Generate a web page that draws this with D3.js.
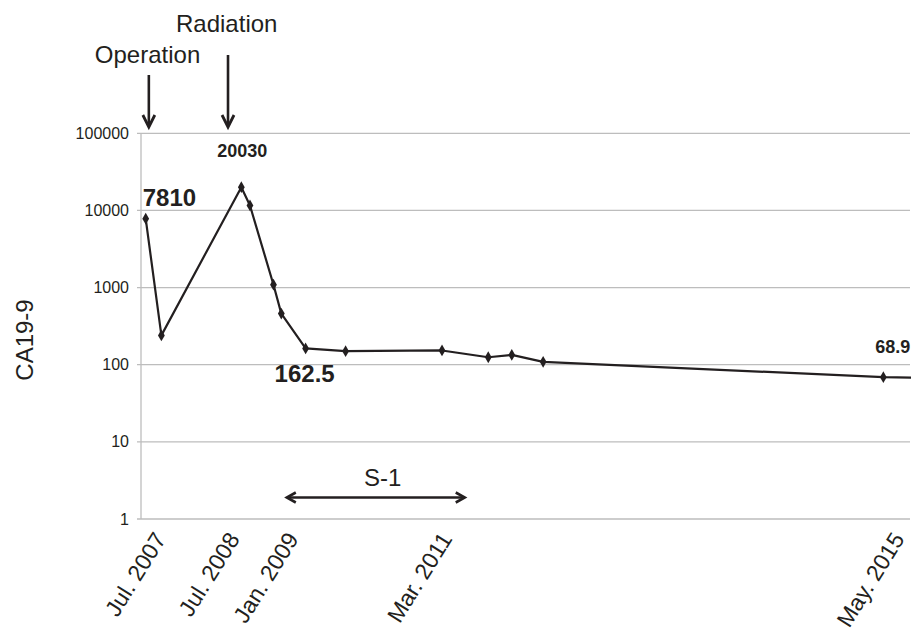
<!DOCTYPE html>
<html>
<head>
<meta charset="utf-8">
<script src="https://cdn.jsdelivr.net/npm/d3@7"></script>
<style>
    body { margin: 0; background: #fff; }
    text { font-family: "Liberation Sans", Arial, sans-serif; fill: #231f20; }
</style>
</head>
<body>
<div id="chart"></div>
<script>
(function () {
    "use strict";

    //Months after the operation (Jul. 2007)
    var obsMonth = [0, 2.0, 12.2, 13.3, 16.3, 17.3, 20.4, 25.5, 37.8, 43.7, 46.7, 50.7, 94.1, 99.0];
    //CA19-9 values
    var obsValue = [7810, 240, 20030, 11600, 1090, 460, 162.5, 150, 153, 125, 134, 109, 68.9, 67.5];

    //Value labels shown on the chart (index into the series)
    var valueLabels = [
        { i: 0, text: "7810" },
        { i: 2, text: "20030" },
        { i: 6, text: "162.5" },
        { i: 12, text: "68.9" }
    ];

    var yTicks = [1, 10, 100, 1000, 10000, 100000];
    var xTickMonths = [2.7, 12.1, 19.6, 39.2, 96.9];
    var xTickLabels = ["Jul. 2007", "Jul. 2008", "Jan. 2009", "Mar. 2011", "May. 2015"];

    //Treatment events
    var events = [
        { month: 0.4, text: "Operation" },
        { month: 10.5, text: "Radiation" }
    ];
    var s1Period = [18.0, 40.7];
    var s1Label = "S-1";

    var width = 911, height = 635;
    var left = 141, right = 910, top = 133.3, bottom = 519;

    var svg = d3.select("#chart").append("svg")
        .attr("width", width)
        .attr("height", height);

    var x = d3.scaleLinear().domain([-0.6, 97.5]).range([left, right]);
    var y = d3.scaleLog().domain([1, 100000]).range([bottom, top]);

    //Gridlines and left axis
    svg.append("g").selectAll("line")
        .data(yTicks)
        .enter().append("line")
        .attr("x1", left - 4)
        .attr("x2", right)
        .attr("y1", function (d) { return y(d); })
        .attr("y2", function (d) { return y(d); })
        .attr("stroke", "#bdbdbd")
        .attr("stroke-width", 1.3);

    svg.append("line")
        .attr("x1", left).attr("x2", left)
        .attr("y1", top).attr("y2", bottom)
        .attr("stroke", "#bdbdbd")
        .attr("stroke-width", 1.3);

    svg.append("g").selectAll("text")
        .data(yTicks)
        .enter().append("text")
        .attr("x", left - 12)
        .attr("y", function (d) { return y(d) + 5.5; })
        .attr("text-anchor", "end")
        .style("font-size", "16px")
        .text(function (d) { return d; });

    //Y axis title
    svg.append("text")
        .attr("transform", "translate(33," + 340 + ") rotate(-90)")
        .attr("text-anchor", "middle")
        .style("font-size", "24px")
        .text("CA19-9");

    //X labels, rotated
    svg.append("g").selectAll("text")
        .data(xTickMonths)
        .enter().append("text")
        .attr("transform", function (d) {
            return "translate(" + x(d) + "," + (bottom + 20) + ") rotate(-58)";
        })
        .attr("text-anchor", "end")
        .style("font-size", "23px")
        .text(function (d, i) { return xTickLabels[i]; });

    //Series line and markers
    var pts = obsMonth.map(function (m, i) { return [m, obsValue[i]]; });

    var line = d3.line()
        .x(function (d) { return x(d[0]); })
        .y(function (d) { return y(d[1]); });

    svg.append("path")
        .datum(pts)
        .attr("d", line)
        .attr("fill", "none")
        .attr("stroke", "#231f20")
        .attr("stroke-width", 2.2)
        .attr("stroke-linejoin", "round");

    svg.append("g").selectAll("path")
        .data(pts)
        .enter().append("path")
        .attr("transform", function (d) { return "translate(" + x(d[0]) + "," + y(d[1]) + ")"; })
        .attr("d", d3.symbol().type(d3.symbolDiamond).size(40))
        .attr("fill", "#231f20");

    //Value labels
    var labelStyle = {
        0: { dx: -3, dy: -13, size: 24, anchor: "start" },
        2: { dx: 1, dy: -30, size: 18, anchor: "middle" },
        6: { dx: -31, dy: 34, size: 24, anchor: "start" },
        12: { dx: -8, dy: -24, size: 18, anchor: "start" }
    };

    svg.append("g").selectAll("text")
        .data(valueLabels)
        .enter().append("text")
        .attr("x", function (d) { return x(obsMonth[d.i]) + labelStyle[d.i].dx; })
        .attr("y", function (d) { return y(obsValue[d.i]) + labelStyle[d.i].dy; })
        .attr("text-anchor", function (d) { return labelStyle[d.i].anchor; })
        .style("font-size", function (d) { return labelStyle[d.i].size + "px"; })
        .style("font-weight", "bold")
        .text(function (d) { return d.text; });

    //Event arrows
    var arrowTops = [75, 55];
    var arrowTip = 127;

    events.forEach(function (ev, i) {
        var ax = x(ev.month);
        svg.append("line")
            .attr("x1", ax).attr("x2", ax)
            .attr("y1", arrowTops[i]).attr("y2", arrowTip - 2)
            .attr("stroke", "#231f20")
            .attr("stroke-width", 2.6);
        svg.append("path")
            .attr("d", "M" + (ax - 6) + "," + (arrowTip - 12) + "L" + ax + "," + arrowTip + "L" + (ax + 6) + "," + (arrowTip - 12))
            .attr("fill", "none")
            .attr("stroke", "#231f20")
            .attr("stroke-width", 2.8)
            .attr("stroke-linejoin", "miter");
    });

    svg.append("text")
        .attr("x", x(events[0].month) - 54)
        .attr("y", 63)
        .style("font-size", "24px")
        .text(events[0].text);

    svg.append("text")
        .attr("x", x(events[1].month) - 52)
        .attr("y", 32)
        .style("font-size", "24px")
        .text(events[1].text);

    //S-1 period
    var sx1 = x(s1Period[0]), sx2 = x(s1Period[1]), sy = y(1.9);
    svg.append("line")
        .attr("x1", sx1 + 1).attr("x2", sx2 - 1)
        .attr("y1", sy).attr("y2", sy)
        .attr("stroke", "#231f20")
        .attr("stroke-width", 2.6);
    svg.append("path")
        .attr("d", "M" + (sx1 + 9) + "," + (sy - 5) + "L" + sx1 + "," + sy + "L" + (sx1 + 9) + "," + (sy + 5) +
            "M" + (sx2 - 9) + "," + (sy - 5) + "L" + sx2 + "," + sy + "L" + (sx2 - 9) + "," + (sy + 5))
        .attr("fill", "none")
        .attr("stroke", "#231f20")
        .attr("stroke-width", 2.6);

    svg.append("text")
        .attr("x", (sx1 + sx2) / 2 + 7)
        .attr("y", sy - 11)
        .attr("text-anchor", "middle")
        .style("font-size", "24px")
        .text(s1Label);

})();
</script>
</body>
</html>
